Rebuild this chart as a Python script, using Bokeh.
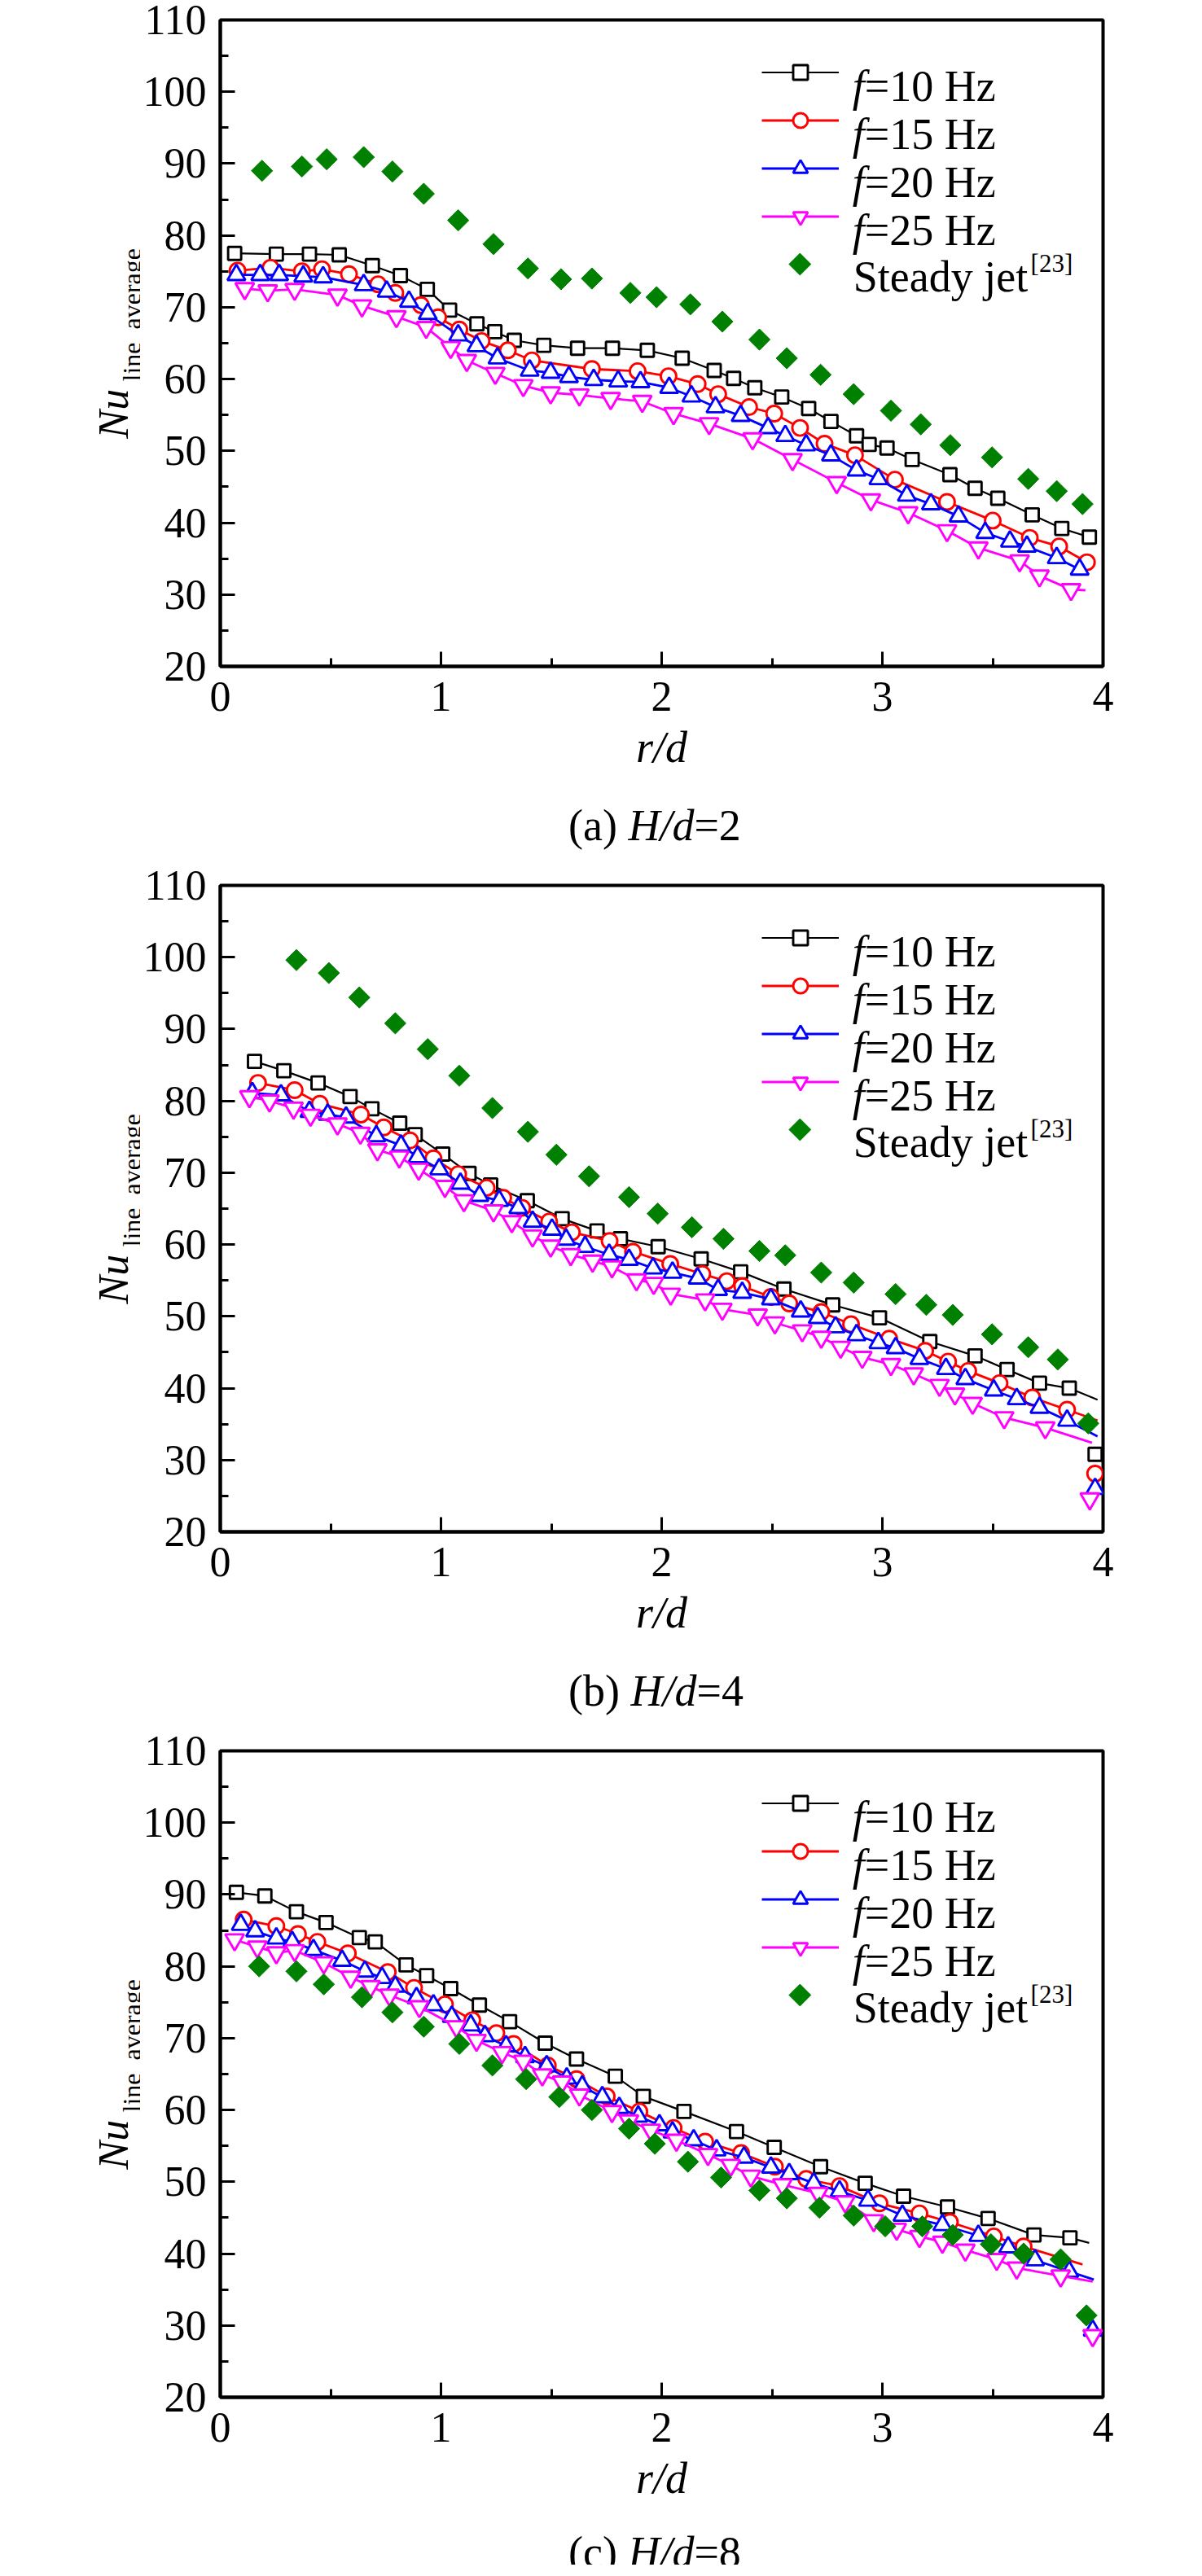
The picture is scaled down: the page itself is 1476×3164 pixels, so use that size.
import numpy as np
from bokeh.plotting import figure
from bokeh.models import Range1d, FixedTicker, Label, Legend, LegendItem, GridBox
from bokeh.embed import file_html
from bokeh.resources import INLINE

# ---------------- data ----------------
# (a) H/d = 2
a_f10_r = [0.065, 0.254, 0.404, 0.539, 0.689, 0.816, 0.938, 1.039, 1.163, 1.244, 1.332, 1.466, 1.619, 1.777, 1.935, 2.093,
           2.238, 2.326, 2.422, 2.544, 2.666, 2.767, 2.883, 2.940, 3.021, 3.135, 3.306, 3.420, 3.523, 3.679, 3.813, 3.938]
a_f10_nu = [77.5, 77.4, 77.4, 77.3, 75.8, 74.4, 72.5, 69.6, 67.7, 66.6, 65.4, 64.7, 64.3, 64.3, 64.0, 62.9,
            61.2, 60.1, 58.8, 57.5, 55.9, 54.1, 52.1, 50.9, 50.4, 48.8, 46.7, 44.8, 43.4, 41.1, 39.2, 38.0]
a_f15_r = [0.078, 0.228, 0.370, 0.461, 0.583, 0.715, 0.793, 0.909, 0.987, 1.083, 1.184, 1.303, 1.412, 1.684, 1.891,
           2.031, 2.163, 2.256, 2.396, 2.510, 2.627, 2.738, 2.876, 3.057, 3.293, 3.500, 3.668, 3.801, 3.927]
a_f15_nu = [75.1, 75.5, 75.0, 75.3, 74.6, 73.2, 72.0, 70.3, 68.6, 66.9, 65.3, 64.0, 62.6, 61.4, 61.1,
            60.4, 59.3, 57.9, 56.1, 55.2, 53.2, 51.0, 49.4, 46.0, 42.9, 40.3, 37.9, 36.7, 34.5]
a_f20_r = [0.073, 0.181, 0.267, 0.376, 0.466, 0.650, 0.754, 0.855, 0.940, 1.078, 1.161, 1.256, 1.402, 1.497, 1.580,
           1.692, 1.803, 1.904, 2.034, 2.135, 2.244, 2.358, 2.482, 2.560, 2.655, 2.767, 2.883, 2.982, 3.111, 3.220,
           3.345, 3.466, 3.578, 3.655, 3.790, 3.894]
a_f20_nu = [74.5, 74.5, 74.5, 74.3, 74.2, 73.1, 72.2, 70.8, 69.1, 66.1, 64.6, 62.9, 61.2, 60.9, 60.3,
            59.9, 59.7, 59.6, 58.8, 57.6, 56.1, 54.9, 53.2, 52.1, 50.8, 49.4, 47.3, 46.1, 43.8, 42.6,
            40.9, 38.6, 37.4, 36.7, 35.1, 33.5]
a_f25_r = [0.111, 0.215, 0.337, 0.531, 0.642, 0.798, 0.933, 1.044, 1.117, 1.246, 1.373, 1.497, 1.627, 1.769, 1.912,
           2.054, 2.215, 2.412, 2.593, 2.793, 2.948, 3.117, 3.293, 3.435, 3.622, 3.712, 3.855]
a_f25_nu = [72.6, 72.3, 72.5, 71.7, 70.2, 68.7, 67.2, 64.4, 62.6, 60.8, 59.1, 58.1, 57.8, 57.3, 56.9,
            55.2, 53.8, 51.7, 48.8, 45.6, 43.2, 41.4, 38.9, 36.5, 34.7, 32.6, 30.7]
a_sj_r = [0.189, 0.370, 0.482, 0.650, 0.780, 0.922, 1.078, 1.238, 1.394, 1.544, 1.684, 1.858, 1.977, 2.130, 2.275,
          2.443, 2.567, 2.720, 2.870, 3.039, 3.174, 3.308, 3.497, 3.661, 3.790, 3.907]
a_sj_nu = [89.0, 89.6, 90.6, 90.9, 88.9, 85.8, 82.1, 78.8, 75.4, 73.9, 74.0, 72.0, 71.4, 70.4, 68.0,
           65.5, 62.9, 60.6, 57.9, 55.6, 53.7, 50.8, 49.1, 46.1, 44.4, 42.6]
a_end_r = [None, None, None, 3.920]
a_end_nu = [None, None, None, 30.6]
a_drop_r = [None, None, None, None]
a_drop_nu = [None, None, None, None]

# (b) H/d = 4
b_f10_r = [0.155, 0.288, 0.443, 0.588, 0.687, 0.813, 0.883, 1.008, 1.127, 1.225, 1.391, 1.549, 1.707, 1.813, 1.984,
           2.179, 2.358, 2.554, 2.775, 2.987, 3.215, 3.420, 3.565, 3.712, 3.847]
b_f10_nu = [85.5, 84.2, 82.5, 80.6, 78.9, 76.9, 75.3, 72.6, 69.9, 68.3, 66.1, 63.6, 61.9, 60.8, 59.7,
            58.0, 56.2, 53.8, 51.6, 49.8, 46.5, 44.5, 42.6, 40.7, 40.0]
b_f15_r = [0.171, 0.337, 0.451, 0.637, 0.741, 0.860, 0.966, 1.078, 1.207, 1.282, 1.368, 1.490, 1.593, 1.764, 1.870,
           2.039, 2.184, 2.295, 2.365, 2.495, 2.578, 2.723, 2.858, 3.031, 3.194, 3.298, 3.389, 3.531, 3.679, 3.837]
b_f15_nu = [82.5, 81.5, 79.6, 78.1, 76.3, 74.5, 72.0, 69.8, 67.9, 66.5, 65.1, 63.2, 61.7, 60.5, 59.0,
            57.3, 55.9, 54.9, 54.2, 52.7, 51.8, 50.6, 48.9, 46.9, 45.2, 43.7, 42.4, 40.7, 38.7, 37.0]
b_f20_r = [0.145, 0.275, 0.404, 0.487, 0.570, 0.707, 0.819, 0.894, 0.992, 1.088, 1.174, 1.264, 1.350, 1.415, 1.503,
           1.567, 1.653, 1.762, 1.852, 1.961, 2.049, 2.163, 2.256, 2.365, 2.495, 2.630, 2.707, 2.788, 2.883, 2.982,
           3.060, 3.168, 3.288, 3.376, 3.505, 3.609, 3.712, 3.837]
b_f20_nu = [81.1, 80.8, 78.5, 78.1, 77.7, 75.1, 73.8, 72.2, 70.5, 68.5, 66.8, 66.1, 65.1, 63.2, 62.1,
            60.7, 59.7, 58.6, 57.9, 56.7, 56.1, 55.3, 53.7, 53.3, 52.4, 50.7, 49.8, 48.5, 47.4, 46.3,
            45.6, 44.1, 42.7, 41.3, 39.7, 38.5, 37.3, 35.5]
b_f25_r = [0.132, 0.223, 0.332, 0.409, 0.531, 0.635, 0.712, 0.811, 0.899, 1.018, 1.104, 1.238, 1.321, 1.415, 1.497,
           1.588, 1.687, 1.775, 1.886, 1.964, 2.041, 2.197, 2.275, 2.435, 2.513, 2.637, 2.723, 2.811, 2.909, 3.039,
           3.142, 3.259, 3.329, 3.409, 3.552, 3.738]
b_f25_nu = [80.6, 80.0, 79.0, 78.0, 76.8, 75.5, 73.2, 72.2, 70.5, 68.1, 66.1, 64.7, 63.2, 61.2, 59.8,
            58.6, 57.7, 56.9, 55.1, 54.6, 53.1, 52.3, 51.0, 50.2, 49.1, 48.0, 47.1, 45.7, 44.3, 43.3,
            42.0, 40.4, 39.2, 37.9, 35.9, 34.5]
b_sj_r = [0.345, 0.492, 0.630, 0.793, 0.940, 1.083, 1.233, 1.394, 1.523, 1.671, 1.852, 1.982, 2.137, 2.280, 2.443,
          2.560, 2.723, 2.870, 3.060, 3.199, 3.319, 3.497, 3.661, 3.795, 3.933]
b_sj_nu = [99.6, 97.8, 94.4, 90.8, 87.2, 83.5, 79.0, 75.7, 72.5, 69.5, 66.6, 64.3, 62.4, 60.8, 59.1,
           58.5, 56.1, 54.7, 53.1, 51.6, 50.2, 47.5, 45.7, 44.0, 35.1]
b_end_r = [3.975, 3.975, 3.975, 3.950]
b_end_nu = [38.4, 35.5, 33.3, 32.4]
b_drop_r = [3.964, 3.964, 3.964, 3.940]
b_drop_nu = [30.8, 28.1, 26.0, 24.6]

# (c) H/d = 8
c_f10_r = [0.073, 0.202, 0.345, 0.479, 0.630, 0.702, 0.842, 0.935, 1.044, 1.174, 1.311, 1.472, 1.614, 1.790, 1.917,
           2.101, 2.339, 2.510, 2.720, 2.922, 3.096, 3.295, 3.479, 3.687, 3.850]
c_f10_nu = [90.3, 89.8, 87.6, 86.1, 84.0, 83.4, 80.2, 78.7, 76.9, 74.6, 72.3, 69.3, 67.1, 64.7, 61.9,
            59.8, 57.0, 54.8, 52.1, 49.8, 48.0, 46.5, 44.9, 42.6, 42.2]
c_f15_r = [0.106, 0.254, 0.352, 0.440, 0.578, 0.759, 0.878, 1.018, 1.142, 1.251, 1.329, 1.484, 1.614, 1.751, 1.899,
           2.054, 2.197, 2.360, 2.513, 2.655, 2.806, 2.987, 3.168, 3.306, 3.505, 3.640]
c_f15_nu = [86.5, 85.6, 84.5, 83.4, 81.8, 79.2, 77.0, 74.7, 72.5, 70.7, 69.2, 66.2, 64.3, 61.9, 59.8,
            57.5, 55.6, 54.0, 52.1, 50.4, 49.4, 47.0, 45.6, 44.4, 42.4, 41.0]
c_f20_r = [0.093, 0.158, 0.254, 0.326, 0.422, 0.552, 0.655, 0.733, 0.793, 0.889, 0.966, 1.049, 1.135, 1.199, 1.295,
           1.381, 1.479, 1.570, 1.640, 1.731, 1.808, 1.894, 1.990, 2.049, 2.145, 2.249, 2.373, 2.495, 2.578, 2.689,
           2.806, 2.935, 3.091, 3.272, 3.435, 3.570, 3.692, 3.847]
c_f20_nu = [85.8, 84.9, 83.9, 83.4, 82.3, 80.8, 79.3, 78.4, 77.2, 75.6, 74.6, 73.0, 71.8, 70.3, 68.9,
            67.4, 66.1, 64.4, 63.3, 61.8, 60.3, 59.1, 57.9, 56.9, 55.8, 54.4, 53.4, 52.0, 51.1, 49.8,
            48.7, 47.4, 45.3, 44.0, 42.5, 40.9, 39.1, 37.5]
c_f25_r = [0.065, 0.168, 0.254, 0.337, 0.469, 0.591, 0.681, 0.767, 0.902, 1.070, 1.161, 1.277, 1.373, 1.459, 1.549,
           1.627, 1.775, 1.852, 1.951, 2.067, 2.210, 2.313, 2.404, 2.547, 2.710, 2.832, 2.961, 3.065, 3.168, 3.272,
           3.376, 3.518, 3.609, 3.808]
c_f25_nu = [83.7, 82.7, 81.9, 82.2, 80.5, 78.5, 77.2, 76.0, 74.4, 71.6, 69.7, 68.0, 66.8, 64.9, 63.9,
            62.1, 59.8, 58.5, 57.2, 55.8, 53.8, 52.3, 50.8, 49.6, 48.4, 47.2, 44.6, 43.4, 42.4, 41.6,
            40.5, 39.2, 38.0, 36.9]
c_sj_r = [0.176, 0.345, 0.469, 0.642, 0.780, 0.922, 1.083, 1.233, 1.386, 1.536, 1.684, 1.852, 1.969, 2.119, 2.269,
          2.443, 2.567, 2.715, 2.870, 3.013, 3.181, 3.319, 3.492, 3.640, 3.808, 3.925]
c_sj_nu = [80.0, 79.3, 77.5, 75.7, 73.6, 71.6, 69.2, 66.2, 64.3, 61.8, 60.0, 57.4, 55.3, 52.8, 50.6,
           48.8, 47.7, 46.4, 45.3, 43.8, 43.8, 42.6, 41.3, 40.0, 39.2, 31.4]
c_end_r = [3.937, 3.907, 3.958, 3.953]
c_end_nu = [41.5, 38.5, 36.4, 36.1]
c_drop_r = [None, None, 3.953, 3.953]
c_drop_nu = [None, None, 29.3, 28.6]

series_labels = ["=10 Hz", "=15 Hz", "=20 Hz", "=25 Hz"]
steady_label = "Steady jet"
steady_ref = "[23]"
panel_tags = ["a", "b", "c"]
panel_hd = ["2", "4", "8"]
x_ticks = [0, 1, 2, 3, 4]
x_minor = [0.5, 1.5, 2.5, 3.5]
y_ticks = [20, 30, 40, 50, 60, 70, 80, 90, 100, 110]
y_minor = [25, 35, 45, 55, 65, 75, 85, 95, 105]

# ---------------- layout / styling ----------------
FONT = "Liberation Serif"
FRAME_W, FRAME_H = 1085, 794
YT_W = 172                                   # y-title strip width
B_LEFT, B_RIGHT, B_TOP, B_BOT = 97, 50, 24, 140
MAIN_W = B_LEFT + FRAME_W + B_RIGHT
MAIN_H = B_TOP + FRAME_H + B_BOT
CAP_H = [105, 105, 66]                       # caption strip heights
CAP_OFF = [195, 195, 190]                    # caption baseline below frame bottom
XR = (0.0, 4.0)
YR = (20.0, 110.0)
STYLES = [
    ("black", "square", 16, 2.2),
    ("#ff0000", "circle", 19, 2.8),
    ("#0000ff", "triangle", 22, 2.8),
    ("#ff00ff", "inverted_triangle", 23, 2.8),
]
GREEN = "#008000"
W_NORMAL = {"(": 0.333, ")": 0.333, "a": 0.444, "b": 0.5, "c": 0.444, " ": 0.25}


def dx(px):
    return XR[0] + px / FRAME_W * (XR[1] - XR[0])


def dy(px):
    return YR[1] - px / FRAME_H * (YR[1] - YR[0])


def label(p, s, x, y, size, style="normal", angle=0.0):
    p.add_layout(Label(x=x, y=y, text=s, text_font=FONT, text_font_size=f"{size}px",
                       text_font_style=style, text_align="left", text_baseline="alphabetic",
                       angle=angle, text_color="black"))


def strip_fig(w, h, xr, yr, bl, br, bt, bb):
    f = figure(width=w, height=h, x_range=Range1d(*xr), y_range=Range1d(*yr),
               x_axis_type=None, y_axis_type=None, output_backend="svg", toolbar_location=None,
               min_border_left=bl, min_border_right=br, min_border_top=bt, min_border_bottom=bb)
    f.grid.visible = False
    f.outline_line_color = None
    f.title.visible = False
    return f


def make_panel(k, series, sj_r, sj_nu, end_r, end_nu, drop_r, drop_nu):
    p = figure(width=MAIN_W, height=MAIN_H, x_range=Range1d(*XR), y_range=Range1d(*YR),
               output_backend="svg", toolbar_location=None, min_border_left=B_LEFT,
               min_border_right=B_RIGHT, min_border_top=B_TOP, min_border_bottom=B_BOT)
    p.title.visible = False
    p.grid.visible = False
    p.outline_line_color = "black"
    p.outline_line_width = 4
    p.outline_line_alpha = 1.0

    xa = p.xaxis[0]
    xa.ticker = FixedTicker(ticks=x_ticks, minor_ticks=x_minor)
    ya = p.yaxis[0]
    ya.ticker = FixedTicker(ticks=y_ticks, minor_ticks=y_minor)
    for ax in (xa, ya):
        ax.major_tick_in = 18
        ax.major_tick_out = 0
        ax.minor_tick_in = 10
        ax.minor_tick_out = 0
        ax.major_tick_line_width = 3
        ax.minor_tick_line_width = 3
        ax.axis_line_width = 4
        ax.major_label_text_font = FONT
        ax.major_label_text_font_size = "52px"
        ax.major_label_text_color = "black"
    xa.major_label_standoff = 19
    ya.major_label_standoff = 17
    xa.axis_label = "r/d"
    xa.axis_label_text_font = FONT
    xa.axis_label_text_font_style = "italic"
    xa.axis_label_text_font_size = "54px"
    xa.axis_label_text_color = "black"
    xa.axis_label_standoff = 12

    items = []
    for i, (r, nu) in enumerate(series):
        color, marker, size, lw = STYLES[i]
        lx = list(r) + ([end_r[i]] if end_r[i] is not None else [])
        ly = list(nu) + ([end_nu[i]] if end_nu[i] is not None else [])
        mx = list(r) + ([drop_r[i]] if drop_r[i] is not None else [])
        my = list(nu) + ([drop_nu[i]] if drop_nu[i] is not None else [])
        lr = p.line(lx, ly, line_color=color, line_width=lw)
        sr = p.scatter(mx, my, marker=marker, size=size, line_color=color, line_width=2.9,
                       fill_color="white")
        items.append(LegendItem(label=" ", renderers=[lr, sr]))
    p.scatter(sj_r, sj_nu, marker="square", angle=np.pi / 4, size=18.5,
              fill_color=GREEN, line_color=GREEN, line_width=1)

    legend = Legend(items=items, location=(665, 530), glyph_width=95, glyph_height=45,
                    label_height=45, label_width=1, label_standoff=0, spacing=14,
                    padding=0, margin=0, border_line_alpha=0, background_fill_alpha=0,
                    label_text_font_size="10px")
    p.add_layout(legend)

    # legend texts and the steady-jet legend sample
    for i, lab in enumerate(series_labels):
        cy = 64 + 59 * i
        label(p, "f", dx(777), dy(cy + 17), 54, style="italic")
        label(p, lab, dx(792), dy(cy + 17), 54)
    cy = 64 + 59 * 4
    p.scatter([dx(665 + 95 / 2)], [dy(cy)], marker="square", angle=np.pi / 4, size=19,
              fill_color=GREEN, line_color=GREEN, line_width=1)
    label(p, steady_label, dx(778), dy(cy + 15), 54)
    label(p, steady_ref, dx(996), dy(cy - 1), 31)

    # y-axis title strip (same vertical frame as the plot)
    yt = strip_fig(YT_W, MAIN_H, (0, YT_W), YR, 0, 0, B_TOP, B_BOT)
    label(yt, "Nu", 139, dy(514), 52, style="italic", angle=np.pi / 2)
    label(yt, "line_average", 161, dy(444), 32, angle=np.pi / 2)

    # caption strip (same horizontal frame as the plot)
    ch = CAP_H[k]
    cap = strip_fig(MAIN_W, ch, XR, (0, ch), B_LEFT, B_RIGHT, 0, 0)
    base = ch - (CAP_OFF[k] - B_BOT)
    tag = "(" + panel_tags[k] + ") "
    x0 = 428
    label(cap, tag, dx(x0), base, 54)
    x1 = x0 + sum(W_NORMAL[c] for c in tag) * 54
    label(cap, "H/d", dx(x1), base, 54, style="italic")
    x2 = x1 + 1.5 * 54
    label(cap, "=" + panel_hd[k], dx(x2), base, 54)

    return yt, p, cap


panels = [
    make_panel(0, [(a_f10_r, a_f10_nu), (a_f15_r, a_f15_nu), (a_f20_r, a_f20_nu), (a_f25_r, a_f25_nu)],
               a_sj_r, a_sj_nu, a_end_r, a_end_nu, a_drop_r, a_drop_nu),
    make_panel(1, [(b_f10_r, b_f10_nu), (b_f15_r, b_f15_nu), (b_f20_r, b_f20_nu), (b_f25_r, b_f25_nu)],
               b_sj_r, b_sj_nu, b_end_r, b_end_nu, b_drop_r, b_drop_nu),
    make_panel(2, [(c_f10_r, c_f10_nu), (c_f15_r, c_f15_nu), (c_f20_r, c_f20_nu), (c_f25_r, c_f25_nu)],
               c_sj_r, c_sj_nu, c_end_r, c_end_nu, c_drop_r, c_drop_nu),
]

children = []
for k, (yt, p, cap) in enumerate(panels):
    children.append((yt, 2 * k, 0))
    children.append((p, 2 * k, 1))
    children.append((cap, 2 * k + 1, 1))

layout = GridBox(children=children, spacing=0)
open("out.html", "w").write(file_html(layout, INLINE, title="Nu line average"))
